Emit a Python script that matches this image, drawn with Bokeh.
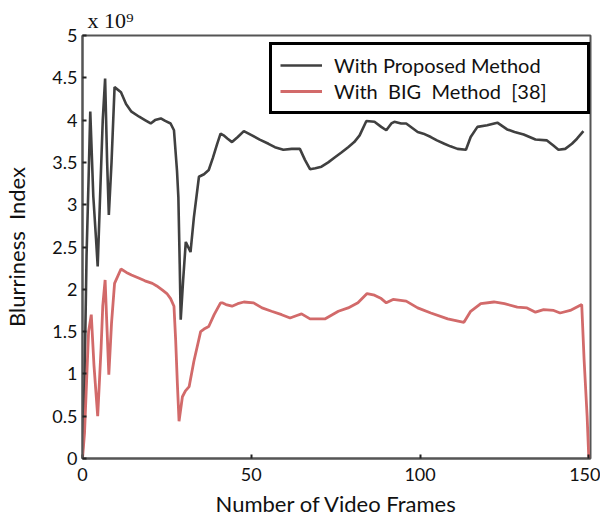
from bokeh.plotting import figure
from bokeh.models import (Range1d, FixedTicker, NumeralTickFormatter,
                          Legend, LegendItem, Title)
from bokeh.embed import file_html
from bokeh.resources import INLINE

# Blurriness index (x 10^9) per video frame
frame_proposed = [0, 0.6, 1.2, 1.8, 2.3, 3.2, 4.0, 4.5, 5.3, 6.0, 6.7, 7.3, 7.8, 8.6, 9.5,
                  11.4, 12.9, 14.5, 16.8, 18.5, 20.2, 21.5, 23.2, 24.5, 26.1, 27.1, 28.0,
                  28.4, 28.8, 29.1, 29.8, 30.6, 31.3, 32.0, 33.0, 34.5, 36.0, 37.4, 38.6,
                  39.9, 40.9, 41.8, 43.0, 44.3, 46.0, 47.8, 50.2, 52.5, 55.1, 57.0, 59.5,
                  62.0, 64.4, 65.9, 67.4, 69.0, 70.8, 72.8, 74.8, 76.8, 78.7, 80.5, 82.1,
                  84.1, 86.5, 88.5, 90.0, 91.5, 92.4, 94.4, 95.9, 99.3, 101.0, 103.2,
                  105.0, 107.2, 109.0, 111.1, 113.6, 115.0, 117.0, 119.9, 122.9, 125.8,
                  128.0, 130.7, 134.2, 137.6, 139.5, 141.0, 143.0, 145.0, 146.5, 148.4]
blur_proposed = [0, 0.9, 2.4, 3.3, 4.1, 3.1, 2.6, 2.27, 3.2, 4.0, 4.49, 3.5, 2.88, 3.5, 4.39,
                 4.33, 4.19, 4.10, 4.04, 4.00, 3.96, 4.00, 4.02, 3.99, 3.96, 3.88, 3.40,
                 3.09, 2.3, 1.64, 2.1, 2.56, 2.50, 2.44, 2.85, 3.33, 3.36, 3.41, 3.55,
                 3.72, 3.84, 3.82, 3.78, 3.74, 3.80, 3.87, 3.82, 3.77, 3.72, 3.68, 3.65,
                 3.66, 3.66, 3.53, 3.42, 3.43, 3.45, 3.50, 3.56, 3.62, 3.68, 3.74, 3.82,
                 3.99, 3.98, 3.92, 3.88, 3.96, 3.98, 3.96, 3.96, 3.86, 3.84, 3.80,
                 3.76, 3.72, 3.69, 3.66, 3.65, 3.80, 3.92, 3.94, 3.97, 3.89,
                 3.86, 3.83, 3.77, 3.76, 3.70, 3.65, 3.66, 3.72, 3.78, 3.87]

frame_big = [0, 0.6, 1.2, 1.8, 2.6, 3.4, 4.5, 5.5, 6.0, 6.7, 7.3, 7.8, 8.6, 9.5, 11.4, 13.0,
             14.5, 16.8, 18.5, 20.7, 22.0, 23.7, 25.0, 26.1, 27.1, 27.6, 28.1, 28.6, 29.6,
             30.5, 31.6, 33.0, 35.0, 36.0, 37.4, 39.0, 40.9, 41.4, 42.5, 44.3, 46.0, 47.8,
             50.7, 53.2, 56.0, 59.0, 61.5, 63.5, 64.9, 67.4, 71.8, 75.8, 78.7, 81.6, 84.3,
             86.5, 88.5, 90.0, 92.0, 95.9, 99.3, 103.2, 108.2, 113.0, 115.0, 118.0, 121.9,
             125.0, 128.8, 131.7, 134.2, 136.6, 139.6, 141.5, 144.5, 147.9, 148.6, 149.5, 150.0]
blur_big = [0, 0.3, 0.9, 1.5, 1.70, 1.1, 0.50, 1.3, 1.8, 2.11, 1.5, 0.99, 1.6, 2.07, 2.24, 2.20,
            2.17, 2.13, 2.10, 2.07, 2.04, 1.99, 1.95, 1.89, 1.80, 1.40, 0.89, 0.44, 0.73,
            0.80, 0.85, 1.15, 1.50, 1.53, 1.56, 1.70, 1.84, 1.84, 1.82, 1.80, 1.83, 1.85,
            1.84, 1.78, 1.74, 1.70, 1.66, 1.69, 1.71, 1.65, 1.65, 1.74, 1.78, 1.84, 1.95,
            1.93, 1.89, 1.84, 1.88, 1.86, 1.78, 1.72, 1.65, 1.61, 1.74, 1.83, 1.85,
            1.83, 1.79, 1.78, 1.73, 1.76, 1.75, 1.72, 1.75, 1.82, 1.17, 0.5, 0.0]

x_ticks = [0, 50, 100, 150]
y_ticks = [0, 0.5, 1, 1.5, 2, 2.5, 3, 3.5, 4, 4.5, 5]
series_names = ["With Proposed Method", "With\u00a0 BIG\u00a0 Method\u00a0 [38]"]
scale_note = "x 10\u2079"

FONT = "Lato"
FRAME_COLOR = "#555555"

p = figure(width=600, height=519, output_backend="svg", toolbar_location=None,
           x_range=Range1d(0, 150.5), y_range=Range1d(0, 5),
           min_border_left=80, min_border_right=10, min_border_top=35, min_border_bottom=60)
p.background_fill_color = "white"
p.border_fill_color = "white"
p.grid.visible = False
p.outline_line_color = FRAME_COLOR
p.outline_line_width = 2

line_prop = p.line(frame_proposed, blur_proposed, line_color="#404040", line_width=2.6)
line_big = p.line(frame_big, blur_big, line_color="#d26a6a", line_width=2.8)

for ax in (p.xaxis[0], p.yaxis[0]):
    ax.axis_line_color = FRAME_COLOR
    ax.axis_line_width = 2
    ax.major_tick_line_color = "#222222"
    ax.major_tick_line_width = 2
    ax.major_tick_in = 4
    ax.major_tick_out = 0
    ax.minor_tick_line_color = None
    ax.major_label_text_font = FONT
    ax.major_label_text_font_size = "18px"
    ax.major_label_text_color = "#111111"
    ax.axis_label_text_font = FONT
    ax.axis_label_text_font_size = "22px"
    ax.axis_label_text_font_style = "normal"
    ax.axis_label_text_color = "#111111"

p.xaxis[0].ticker = FixedTicker(ticks=x_ticks)
p.yaxis[0].ticker = FixedTicker(ticks=y_ticks)
p.yaxis[0].formatter = NumeralTickFormatter(format="0.[0]")
p.xaxis[0].axis_label = "Number of Video Frames"
p.yaxis[0].axis_label = "Blurriness\u00a0 Index"
p.xaxis[0].major_label_standoff = 9
p.xaxis[0].axis_label_standoff = 6
p.yaxis[0].major_label_standoff = 5
p.yaxis[0].axis_label_standoff = 19

legend = Legend(items=[LegendItem(label=series_names[0], renderers=[line_prop]),
                       LegendItem(label=series_names[1], renderers=[line_big])],
                location=(187, 344), orientation="vertical",
                border_line_color="black", border_line_width=3, border_line_alpha=1,
                background_fill_color="white", background_fill_alpha=1,
                label_text_font=FONT, label_text_font_size="20px", label_text_color="#111111",
                glyph_width=42, glyph_height=22, label_height=24, label_width=245,
                label_standoff=12, padding=8, spacing=2, margin=0)
p.add_layout(legend, "center")

# exponent note above the y axis
p.add_layout(Title(text=scale_note, align="left", offset=5, standoff=6,
                   text_font="Liberation Serif", text_font_size="22px",
                   text_font_style="normal", text_color="#111111"), "above")

open("out.html", "w").write(file_html(p, INLINE))
